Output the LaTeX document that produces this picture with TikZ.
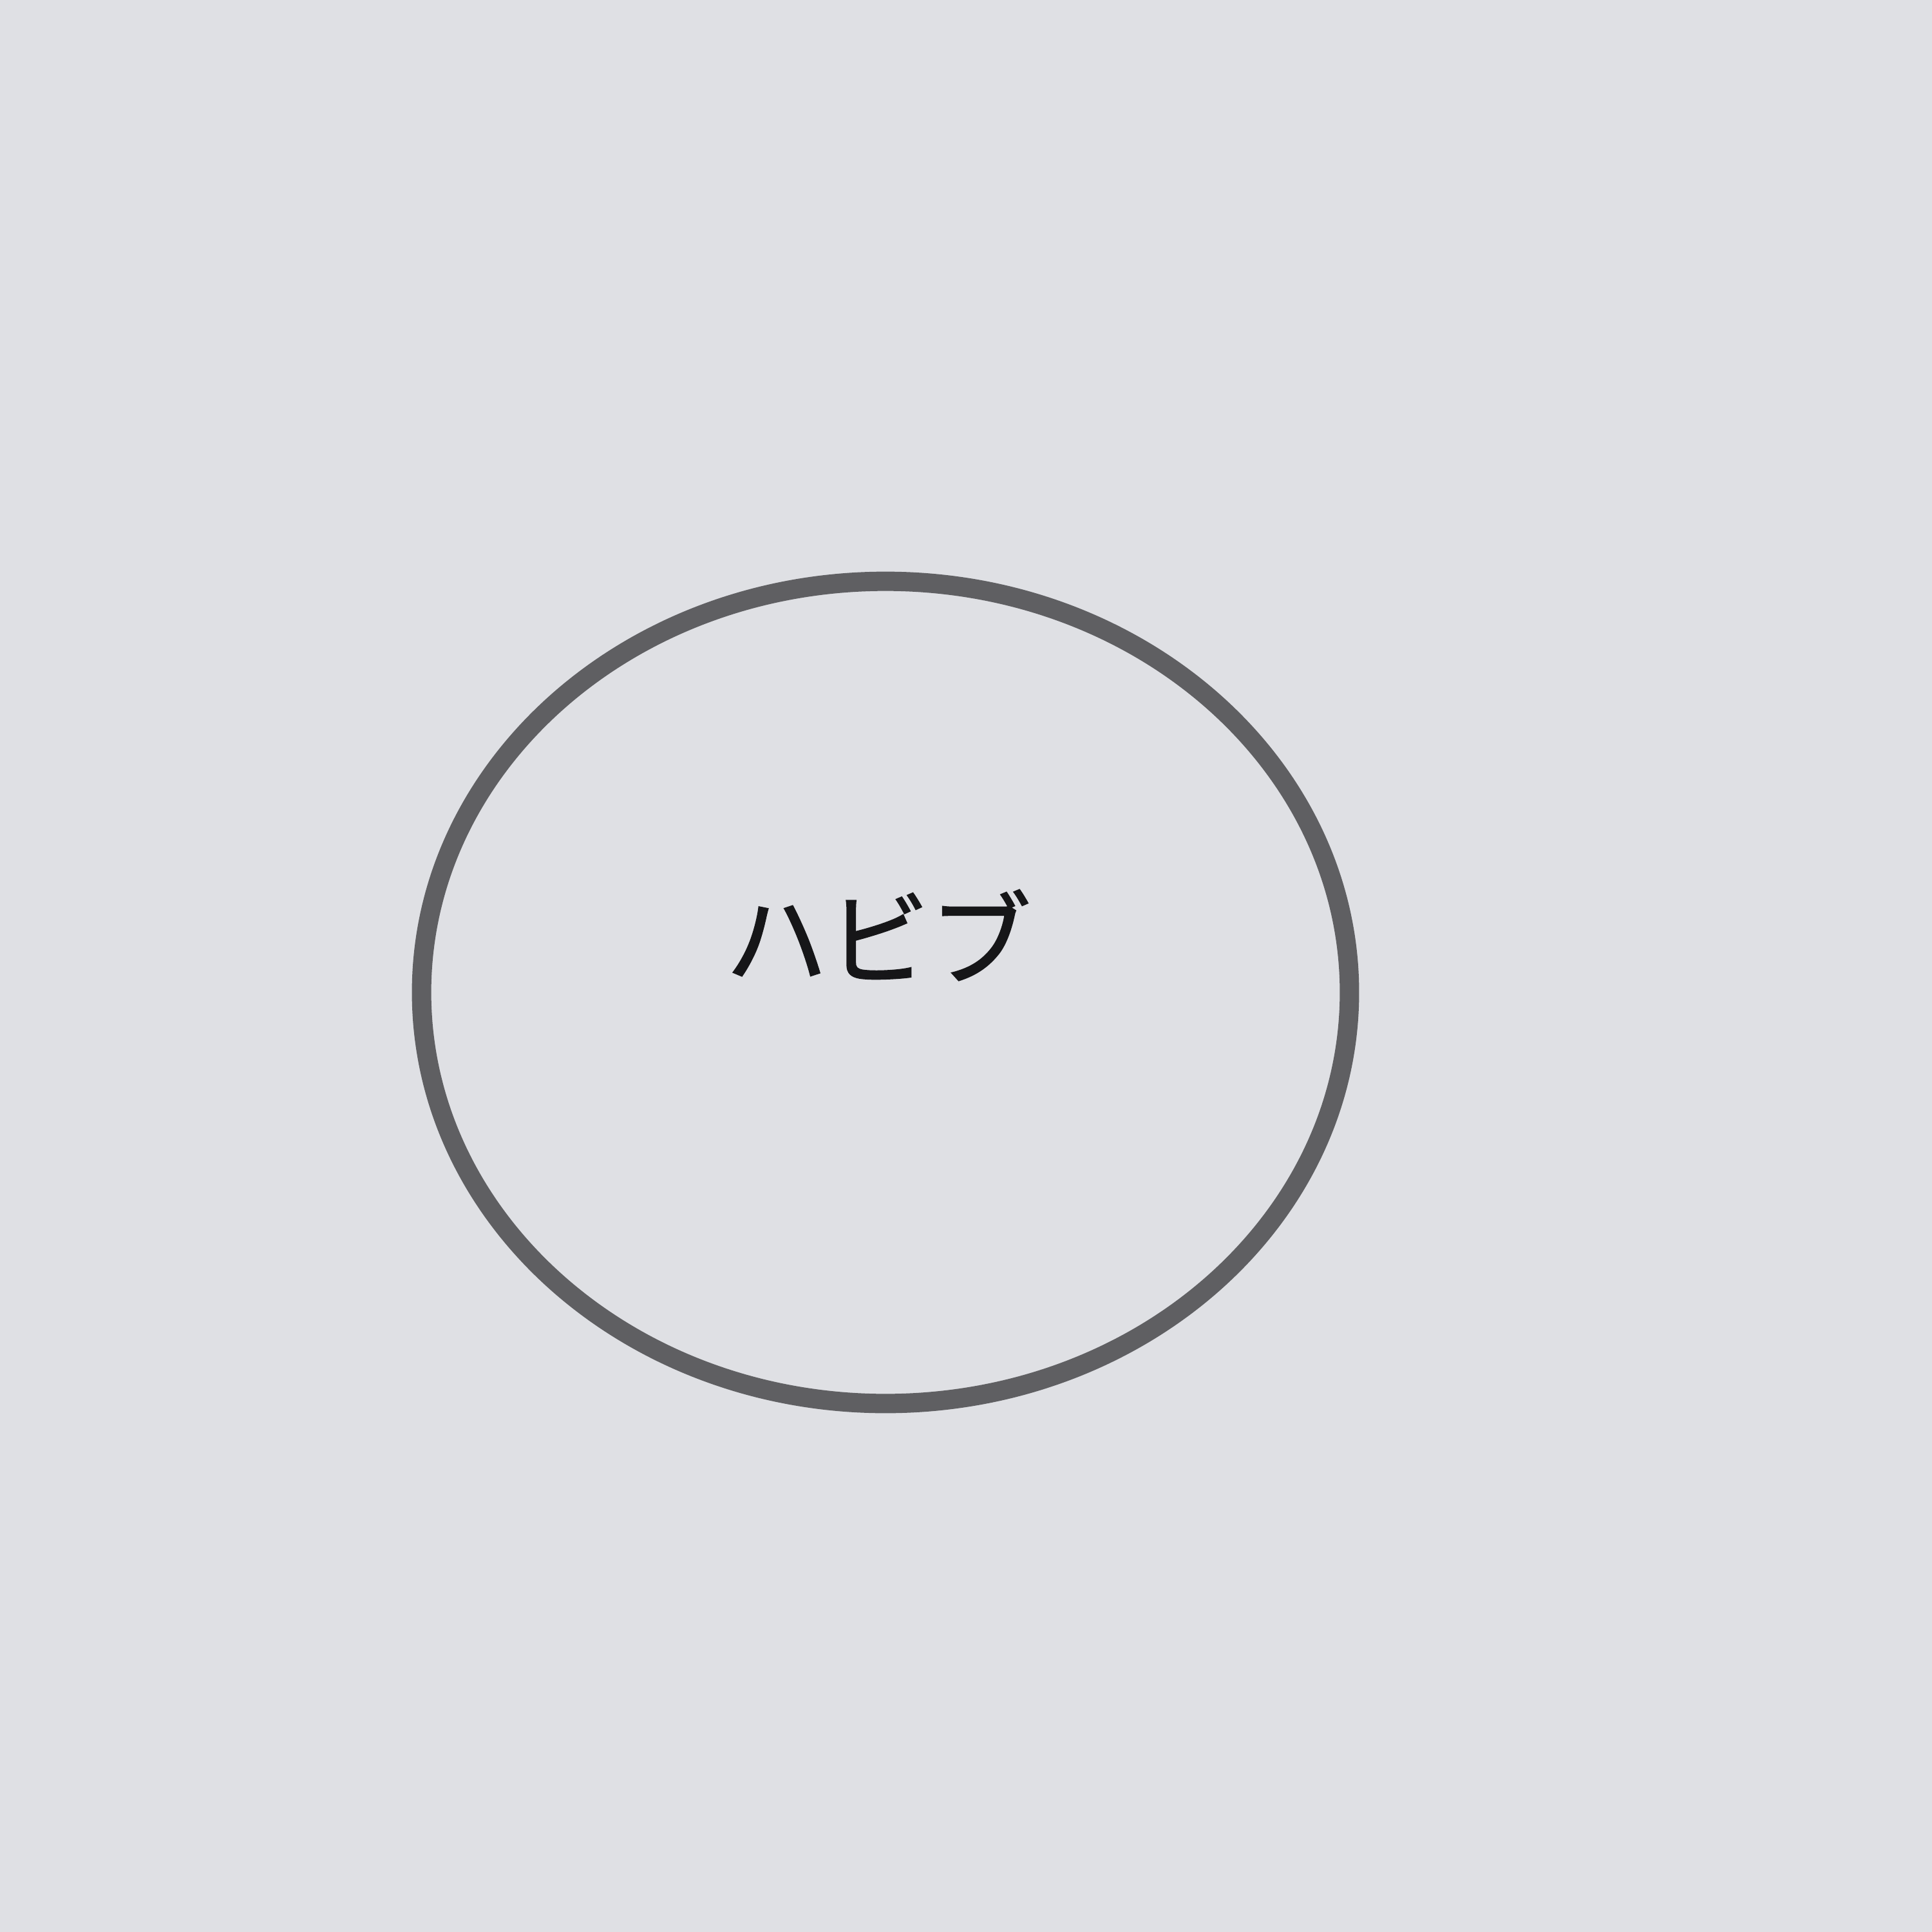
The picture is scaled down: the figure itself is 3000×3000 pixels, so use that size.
\documentclass[tikz,border=0pt]{standalone}
\usepackage{fontspec}
\usetikzlibrary{shapes.geometric}
\newfontfamily\cjk[FakeBold=1.2]{Noto Sans CJK JP}
\definecolor{paper}{RGB}{223,224,228}
\definecolor{ink}{RGB}{95,95,98}
\definecolor{txt}{RGB}{22,22,24}
\begin{document}
\begin{tikzpicture}[x=0.01cm,y=-0.01cm]
\fill[paper] (0,0) rectangle (3000,3000);
\useasboundingbox (0,0) rectangle (3000,3000);
\node[draw=ink, line width=3mm, ellipse, minimum width=14.4cm, minimum height=12.76cm, inner sep=0pt] (e) at (1375,1541) {};
\node[text=txt, font=\cjk\fontsize{45}{50}\selectfont, inner sep=0pt] (t) at (1364,1452) {ハビブ};
\end{tikzpicture}
\end{document}
